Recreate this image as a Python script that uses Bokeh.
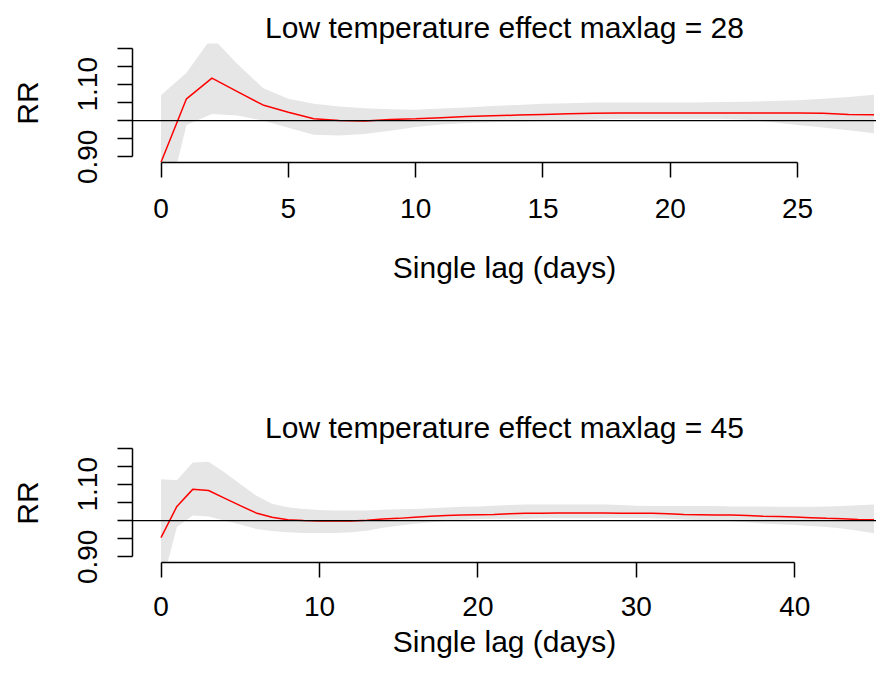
from bokeh.plotting import figure
from bokeh.layouts import column
from bokeh.models import Range1d, FixedTicker, PrintfTickFormatter, Span
from bokeh.embed import file_html
from bokeh.resources import INLINE

# ---- data ----
lags28 = list(range(0, 29))
rr28 = [0.885, 1.060, 1.117, 1.080, 1.043, 1.023, 1.005, 1.000, 0.999, 1.003,
        1.005, 1.008, 1.011, 1.013, 1.015, 1.017, 1.019, 1.020, 1.021, 1.021,
        1.021, 1.021, 1.021, 1.021, 1.021, 1.021, 1.020, 1.017, 1.016]
upper28 = [1.070, 1.132, 1.230, 1.156, 1.090, 1.060, 1.046, 1.039, 1.034, 1.031,
           1.030, 1.033, 1.036, 1.040, 1.043, 1.046, 1.048, 1.050, 1.050, 1.050,
           1.050, 1.050, 1.051, 1.052, 1.054, 1.056, 1.060, 1.065, 1.071]
lower28 = [0.700, 0.988, 1.018, 1.014, 1.000, 0.980, 0.961, 0.959, 0.963, 0.972,
           0.982, 0.989, 0.993, 0.995, 0.997, 0.999, 1.001, 1.003, 1.005, 1.005,
           1.005, 1.005, 1.005, 1.002, 0.995, 0.988, 0.981, 0.973, 0.965]

lags45 = list(range(0, 46))
rr45 = [0.953, 1.039, 1.086, 1.083, 1.062, 1.041, 1.021, 1.009, 1.002, 1.000,
        0.999, 0.999, 0.999, 1.001, 1.004, 1.006, 1.009, 1.012, 1.014, 1.015,
        1.016, 1.017, 1.019, 1.020, 1.020, 1.021, 1.021, 1.021, 1.021, 1.020,
        1.020, 1.020, 1.019, 1.017, 1.016, 1.015, 1.015, 1.014, 1.012, 1.011,
        1.010, 1.008, 1.006, 1.005, 1.003, 1.002]
upper45 = [1.114, 1.111, 1.160, 1.162, 1.133, 1.101, 1.069, 1.046, 1.037, 1.032,
           1.029, 1.028, 1.028, 1.028, 1.030, 1.031, 1.032, 1.034, 1.036, 1.038,
           1.039, 1.041, 1.043, 1.044, 1.044, 1.044, 1.044, 1.044, 1.044, 1.043,
           1.041, 1.040, 1.040, 1.040, 1.040, 1.040, 1.039, 1.039, 1.039, 1.038,
           1.038, 1.038, 1.039, 1.040, 1.042, 1.044]
lower45 = [0.814, 0.982, 1.014, 1.011, 1.000, 0.989, 0.977, 0.971, 0.968, 0.966,
           0.966, 0.966, 0.968, 0.972, 0.980, 0.986, 0.991, 0.995, 0.999, 1.002,
           1.004, 1.005, 1.005, 1.005, 1.006, 1.006, 1.006, 1.006, 1.007, 1.007,
           1.007, 1.006, 1.005, 1.003, 1.001, 1.000, 0.998, 0.995, 0.992, 0.990,
           0.988, 0.985, 0.982, 0.978, 0.972, 0.965]

x_ticks_28 = [0, 5, 10, 15, 20, 25]
x_ticks_45 = [0, 10, 20, 30, 40]
y_major_ticks = [0.90, 1.10]
y_minor_ticks = [0.95, 1.00, 1.05, 1.15, 1.20]
ref_line = 1.0
y_limits = (0.8843, 1.2125)

titles = ["Low temperature effect maxlag = 28", "Low temperature effect maxlag = 45"]
x_label = "Single lag (days)"
y_label = "RR"

FONT = "Liberation Sans"
W = 876
LEFT = 132
TOP = 43
FRAME_H = 119
FRAME_W = W - LEFT


def panel(lags, rr, lo, hi, xticks, title, height, tick_standoff, xlabel_standoff):
    xmax = lags[-1]
    start = -0.04 * xmax
    end = start + FRAME_W * (1.08 * xmax) / 770.0
    p = figure(width=W, height=height,
               x_range=Range1d(start, end), y_range=Range1d(*y_limits),
               output_backend="svg", toolbar_location=None,
               min_border_left=LEFT, min_border_right=0,
               min_border_top=TOP, min_border_bottom=height - TOP - FRAME_H,
               title=title)
    p.outline_line_color = None
    p.grid.visible = False
    p.background_fill_color = "white"
    p.border_fill_color = "white"

    p.title.text_font = FONT
    p.title.text_font_size = "30px"
    p.title.text_font_style = "normal"
    p.title.text_color = "black"
    p.title.align = "center"
    p.title.standoff = 0
    p.title.offset = 8

    p.varea(x=lags, y1=lo, y2=hi, fill_color="#e6e6e6")
    p.line(lags, rr, line_color="red", line_width=1.5)
    p.add_layout(Span(location=ref_line, dimension="width",
                      line_color="black", line_width=1.3))

    xa = p.xaxis[0]
    xa.ticker = FixedTicker(ticks=xticks)
    xa.bounds = (xticks[0], xticks[-1])
    xa.axis_label = x_label
    xa.axis_label_text_font = FONT
    xa.axis_label_text_font_size = "30px"
    xa.axis_label_text_font_style = "normal"
    xa.axis_label_text_color = "black"
    xa.axis_label_standoff = xlabel_standoff
    xa.major_label_text_font = FONT
    xa.major_label_text_font_size = "28px"
    xa.major_label_text_color = "black"
    xa.major_label_standoff = tick_standoff
    xa.major_tick_in = 0
    xa.major_tick_out = 15
    xa.minor_tick_line_color = None
    xa.axis_line_width = 1.5
    xa.major_tick_line_width = 1.5
    xa.axis_line_color = "black"
    xa.major_tick_line_color = "black"

    ya = p.yaxis[0]
    ya.ticker = FixedTicker(ticks=y_major_ticks, minor_ticks=y_minor_ticks)
    ya.formatter = PrintfTickFormatter(format="%.2f")
    ya.bounds = (0.90, 1.20)
    ya.axis_label = y_label
    ya.axis_label_text_font = FONT
    ya.axis_label_text_font_size = "30px"
    ya.axis_label_text_font_style = "normal"
    ya.axis_label_text_color = "black"
    ya.axis_label_standoff = 32
    ya.major_label_orientation = "vertical"
    ya.major_label_text_font = FONT
    ya.major_label_text_font_size = "28px"
    ya.major_label_text_color = "black"
    ya.major_label_standoff = 20
    ya.major_tick_in = 0
    ya.major_tick_out = 15
    ya.minor_tick_in = 0
    ya.minor_tick_out = 15
    ya.minor_tick_line_color = "black"
    ya.minor_tick_line_width = 1.5
    ya.major_tick_line_width = 1.5
    ya.axis_line_width = 1.5
    ya.axis_line_color = "black"
    ya.major_tick_line_color = "black"
    return p


p1 = panel(lags28, rr28, lower28, upper28, x_ticks_28, titles[0], 400, 21, 30)
p2 = panel(lags45, rr45, lower45, upper45, x_ticks_45, titles[1], 270, 19, 6)

layout = column(p1, p2, spacing=0)
open("out.html", "w").write(file_html(layout, INLINE))
